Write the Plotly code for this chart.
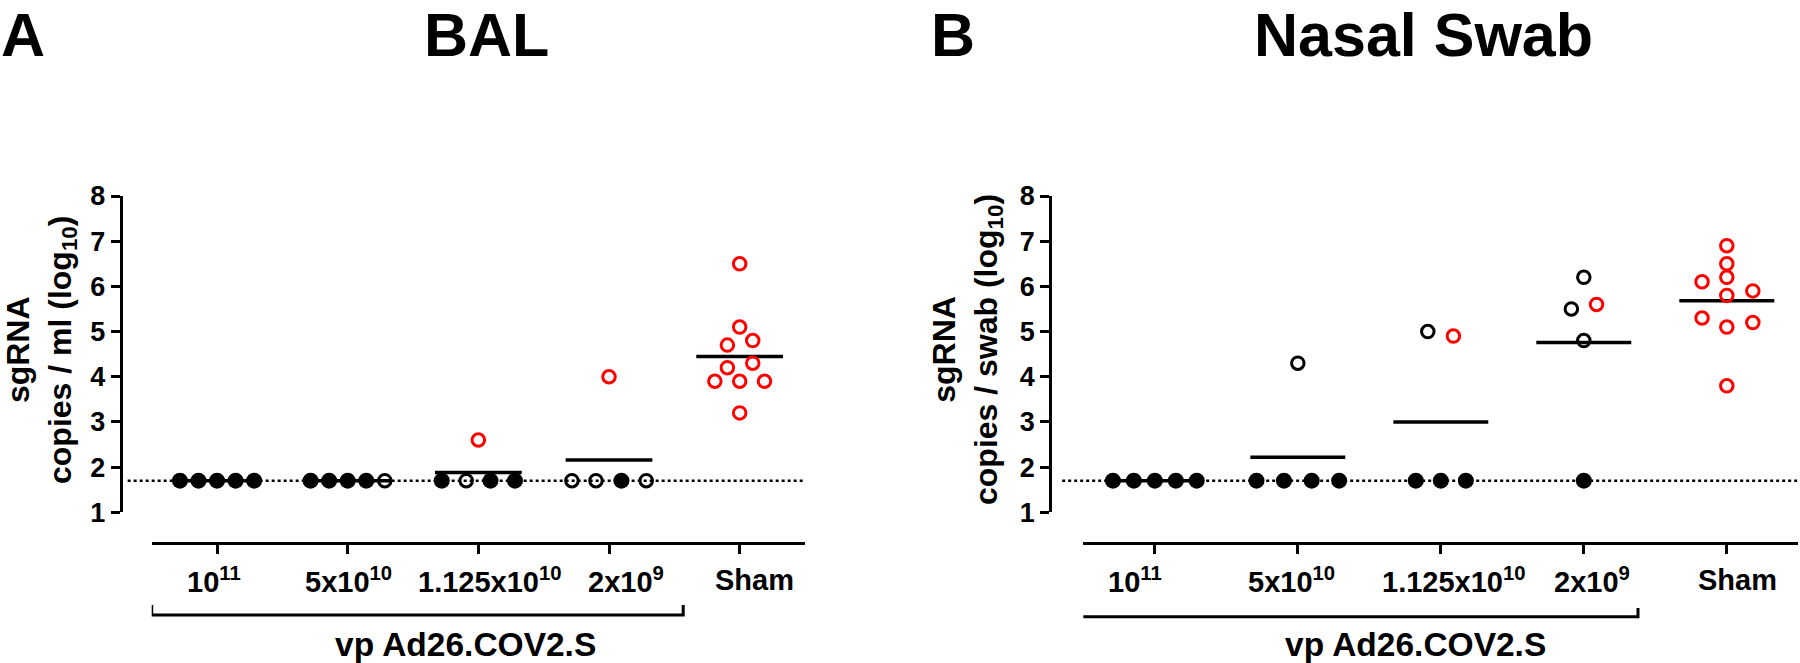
import plotly.graph_objects as go

# ---------------- data ----------------
categories = ["10<sup>11</sup>", "5x10<sup>10</sup>", "1.125x10<sup>10</sup>", "2x10<sup>9</sup>", "Sham"]
group_label = "vp Ad26.COV2.S"
lod = 1.7

bal_values = [
    [1.7, 1.7, 1.7, 1.7, 1.7],
    [1.7, 1.7, 1.7, 1.7, 1.7],
    [1.7, 1.7, 1.7, 1.7, 2.6],
    [1.7, 1.7, 1.7, 1.7, 4.0],
    [6.5, 5.1, 4.7, 4.8, 4.2, 4.3, 3.9, 3.9, 3.9, 3.2],
]
bal_kinds = [
    ["F", "F", "F", "F", "F"],
    ["F", "F", "F", "F", "O"],
    ["F", "O", "F", "F", "R"],
    ["O", "O", "F", "O", "R"],
    ["R"] * 10,
]

nasal_values = [
    [1.7, 1.7, 1.7, 1.7, 1.7],
    [1.7, 1.7, 1.7, 1.7, 4.3],
    [1.7, 1.7, 1.7, 5.0, 4.9],
    [1.7, 6.2, 5.5, 5.6, 4.8],
    [6.9, 6.5, 6.1, 6.2, 5.9, 5.8, 5.3, 5.1, 5.2, 3.8],
]
nasal_kinds = [
    ["F", "F", "F", "F", "F"],
    ["F", "F", "F", "F", "O"],
    ["F", "F", "F", "O", "R"],
    ["F", "O", "O", "R", "O"],
    ["R"] * 10,
]

# horizontal scatter offsets (layout only, in category units)
bal_offsets = [
    [-0.284, -0.142, 0, 0.142, 0.284],
    [-0.284, -0.142, 0, 0.142, 0.284],
    [-0.28, -0.093, 0.093, 0.28, 0],
    [-0.284, -0.1, 0.095, 0.285, 0],
    [0, 0, -0.094, 0.1, -0.094, 0.1, -0.19, 0, 0.19, 0],
]
nasal_offsets = [
    [-0.293, -0.147, 0, 0.147, 0.293],
    [-0.289, -0.097, 0.097, 0.289, 0],
    [-0.175, 0, 0.175, -0.091, 0.088],
    [0, 0, -0.087, 0.089, 0],
    [0, 0, -0.173, 0, 0.182, 0, -0.173, 0, 0.182, 0],
]

# ---------------- styling ----------------
W, H = 1800, 663
FONT = "Liberation Sans"
RED = "#FF0000"
BLACK = "#000000"

def px_x(p):
    return p / W

def px_y(p):
    return 1 - p / H

fig = go.Figure()

panels = [
    dict(values=bal_values, kinds=bal_kinds, offsets=bal_offsets,
         xd="x", yd="y", xb="x3", lod_start=-0.684),
    dict(values=nasal_values, kinds=nasal_kinds, offsets=nasal_offsets,
         xd="x2", yd="y2", xb="x4", lod_start=-0.648),
]

style = {
    "F": dict(symbol="circle", size=16, color=BLACK, line=dict(width=0)),
    "O": dict(symbol="circle-open", size=12.5, color=BLACK, line=dict(width=3, color=BLACK)),
    "R": dict(symbol="circle-open", size=12.5, color=RED, line=dict(width=3, color=RED)),
}

for p in panels:
    # limit of detection dotted line
    fig.add_trace(go.Scatter(x=[p["lod_start"], 4.5], y=[lod, lod], mode="lines",
                             line=dict(color=BLACK, width=2.5, dash="dot"),
                             xaxis=p["xd"], yaxis=p["yd"], hoverinfo="skip"))
    # mean lines
    mx, my = [], []
    for i, vals in enumerate(p["values"]):
        m = sum(vals) / len(vals)
        mx += [i - 0.332, i + 0.332, None]
        my += [m, m, None]
    fig.add_trace(go.Scatter(x=mx, y=my, mode="lines", line=dict(color=BLACK, width=3.5),
                             xaxis=p["xd"], yaxis=p["yd"], hoverinfo="skip"))
    # points
    for k in ["F", "O", "R"]:
        xs, ys = [], []
        for i, vals in enumerate(p["values"]):
            for v, kind, off in zip(vals, p["kinds"][i], p["offsets"][i]):
                if kind == k:
                    xs.append(i + off)
                    ys.append(v)
        fig.add_trace(go.Scatter(x=xs, y=ys, mode="markers", marker=style[k],
                                 xaxis=p["xd"], yaxis=p["yd"]))
    # dummy trace for bottom category axis
    fig.add_trace(go.Scatter(x=[-0.5, 4.5], y=[None, None], mode="markers",
                             xaxis=p["xb"], yaxis=p["yd"], hoverinfo="skip",
                             marker=dict(opacity=0)))

ydom = [px_y(512.3), px_y(196)]
yax = dict(range=[1, 8], tickvals=[1, 2, 3, 4, 5, 6, 7, 8], showline=True, linewidth=3,
           linecolor=BLACK, ticks="outside", ticklen=9, tickwidth=3, tickcolor=BLACK,
           showgrid=False, zeroline=False, domain=ydom, automargin=False,
           tickfont=dict(family=FONT, size=27, color=BLACK, weight="bold"))
xbase = dict(showline=True, linewidth=3, linecolor=BLACK, ticks="outside", ticklen=9,
             tickwidth=3, tickcolor=BLACK, tickvals=[0, 1, 2, 3, 4], showticklabels=False,
             showgrid=False, zeroline=False, range=[-0.5, 4.5], anchor="free",
             position=px_y(543.3), automargin=False)

fig.update_layout(
    template="none",
    width=W, height=H, margin=dict(l=0, r=0, t=0, b=0, pad=0, autoexpand=False),
    paper_bgcolor="white", plot_bgcolor="rgba(0,0,0,0)", showlegend=False,
    xaxis=dict(domain=[px_x(122.7), px_x(805)], range=[-0.722, 4.5], visible=False,
               anchor="y", automargin=False),
    yaxis=dict(anchor="x", **yax),
    xaxis2=dict(domain=[px_x(1052.3), px_x(1798.3)], range=[-0.717, 4.5], visible=False,
                anchor="y2", automargin=False),
    yaxis2=dict(anchor="x2", **yax),
    xaxis3=dict(domain=[px_x(151.7), px_x(805)], **xbase),
    xaxis4=dict(domain=[px_x(1083.3), px_x(1798.3)], **xbase),
)

# category labels under the bottom axes
bal_shift = [-3, 1, 12, 17, 15]
nasal_shift = [-20, -6, 13, 8, 11]
for xb, shifts in [("x3", bal_shift), ("x4", nasal_shift)]:
    for i, lab in enumerate(categories):
        fig.add_annotation(x=i, y=px_y(580), xref=xb, yref="paper", text=lab,
                           showarrow=False, xanchor="center", yanchor="middle", xshift=shifts[i],
                           font=dict(family=FONT, size=29, color=BLACK, weight="bold"))

# brackets + group label
brackets = [("x3", -0.5, 3.568, 605, 615, 1.905), ("x4", -0.607, 3.379, 608, 616.7, 1.822)]
for xb, x0, x1, ytop, ybot, xc in brackets:
    fig.add_shape(type="path", xref=xb, yref="paper",
                  path=f"M {x0},{px_y(ytop)} L {x0},{px_y(ybot)} L {x1},{px_y(ybot)} L {x1},{px_y(ytop)}",
                  line=dict(color=BLACK, width=3))
    fig.add_annotation(x=xc, y=px_y(644), xref=xb, yref="paper", text=group_label,
                       showarrow=False, xanchor="center", yanchor="middle",
                       font=dict(family=FONT, size=33.5, color=BLACK, weight="bold"))

# y-axis titles
for xc, txt in [(41, "sgRNA<br>copies / ml (log<sub>10</sub>)"),
                (967, "sgRNA<br>copies / swab (log<sub>10</sub>)")]:
    fig.add_annotation(x=px_x(xc), y=px_y(350), xref="paper", yref="paper", text=txt,
                       showarrow=False, textangle=-90, xanchor="center", yanchor="middle",
                       font=dict(family=FONT, size=32, color=BLACK, weight="bold"))

# panel letters and titles
for xl, txt in [(0, "A"), (423, "BAL"), (930, "B"), (1253, "Nasal Swab")]:
    fig.add_annotation(x=px_x(xl), y=1, xref="paper", yref="paper", text=txt,
                       showarrow=False, xanchor="left", yanchor="top", borderpad=0,
                       font=dict(family=FONT, size=61, color=BLACK, weight="bold"))

fig.write_html("out.html", config={"displayModeBar": False},
               post_script="document.body.style.margin='0px';document.body.style.padding='0px';")
